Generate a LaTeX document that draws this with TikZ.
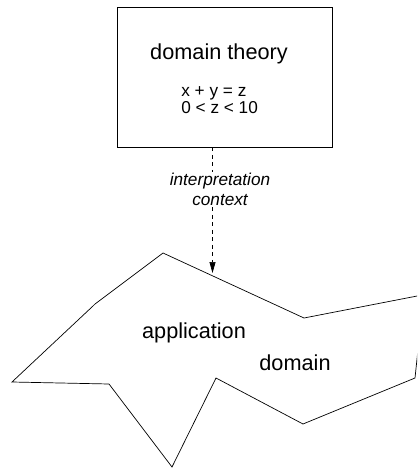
\documentclass[tikz,border=0pt]{standalone}
\usepackage{fontspec}
\setmainfont{Liberation Sans}
\usetikzlibrary{arrows.meta}
\tikzset{
  bigtext/.style={font=\fontsize{21.7bp}{26bp}\selectfont},
  smalltext/.style={font=\fontsize{17.2bp}{20bp}\selectfont},
}
\begin{document}
\begin{tikzpicture}[x=1bp,y=-1bp,line width=0.7bp]
    \useasboundingbox (0,0) rectangle (417,468);
    \clip (0,0) rectangle (417,468);
    %% domain theory
    \node[draw,minimum width=215bp,minimum height=140bp,inner sep=0pt] (theory) at (224.5,77) {};
    \node[bigtext,anchor=base] (title) at (219,60) {domain theory};
    \node[smalltext,anchor=base west,inner sep=0pt] (eqa) at (181,97) {x + y = z};
    \node[smalltext,anchor=base west,inner sep=0pt] (eqb) at (181,114) {0 < z < 10};
    %% application domain
    \draw (163,253) -- (95,304) -- (93,306) -- (12,382) -- (109,384) -- (172,467)
        -- (216,378) -- (303,424) -- (415,378) -- (419,340) -- (430,293.5)
        -- (304,318) -- cycle;
    \node[bigtext,anchor=base] (app) at (194,338) {application};
    \node[bigtext,anchor=base] (dom) at (295,370) {domain};
    %% interpretation context
    \coordinate (tip) at (212.5,273);
    \draw[dashed,dash pattern=on 4bp off 3.5bp,-{Triangle[length=11bp,width=6bp]}] (theory.south -| tip) -- (tip);
    \node[smalltext,font=\fontsize{17.2bp}{20bp}\selectfont\itshape,align=center,fill=white,inner sep=1bp] (ctx) at (220,189) {interpretation\\context};
\end{tikzpicture}
\end{document}
